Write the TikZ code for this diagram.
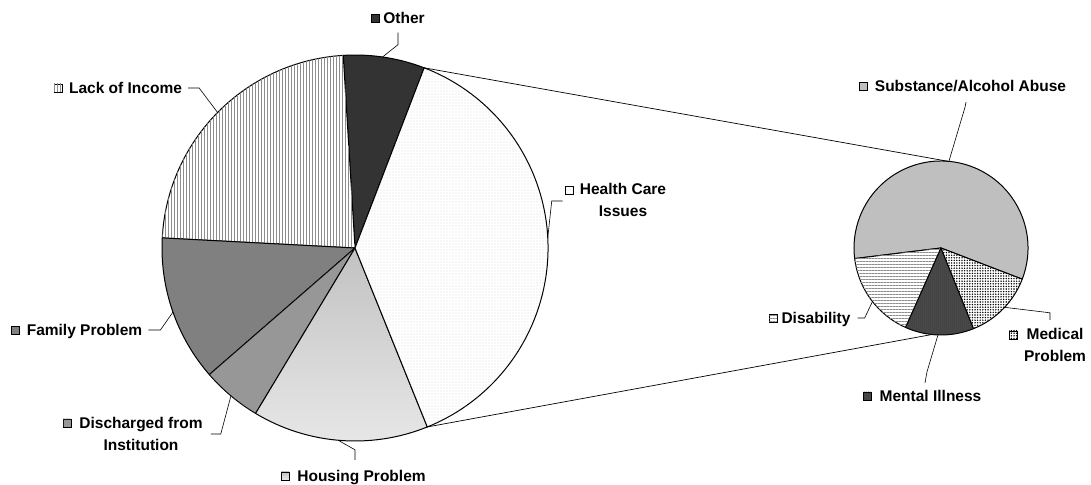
\documentclass[tikz,border=0pt]{standalone}
\usepackage{fontspec}
\setmainfont{Liberation Sans}
\usetikzlibrary{patterns,patterns.meta}

\tikzset{
  slice/.style={draw=black,line width=1pt,line join=round},
  leader/.style={draw=black,line width=0.6pt},
  link/.style={draw=black,line width=0.7pt},
  lbl/.style={font=\bfseries\fontsize{15.5}{22}\selectfont,inner sep=0pt,text height=12pt,text depth=1pt,align=center},
  keysq/.style={draw=black,line width=0.7pt,minimum size=8pt,inner sep=0pt},
  f-other/.style={fill=black!80},
  f-lack/.style={fill=white,postaction={pattern={Lines[angle=90,distance=3pt,line width=1pt]},pattern color=gray!90}},
  f-family/.style={fill=gray},
  f-dis/.style={fill=gray!70,postaction={pattern={Dots[distance=2pt,radius=0.6pt]},pattern color=black!60}},
  f-housing/.style={top color=gray!48,bottom color=gray!18},
  f-hc/.style={fill=white,postaction={pattern={Dots[distance=3pt,radius=0.45pt]},pattern color=gray!70}},
  f-sub/.style={fill=gray!50},
  f-disab/.style={fill=white,postaction={pattern={Lines[angle=0,distance=3pt,line width=1pt]},pattern color=gray!90}},
  f-mental/.style={fill=black!70,postaction={pattern={Dots[distance=2pt,radius=0.5pt]},pattern color=black!85}},
  f-med/.style={fill=white,postaction={pattern={Dots[distance=2.6pt,radius=0.8pt]},pattern color=black}}
}

\begin{document}
\begin{tikzpicture}[x=1pt,y=1pt]
  \useasboundingbox[fill=white] (0,0) rectangle (1091,484);
  \coordinate (bigc) at (355,236);
  \coordinate (smallc) at (941,236);

  % big pie
  \draw[slice,f-other] (bigc) -- ++(69:193) arc[start angle=69,end angle=93.5,radius=193] -- cycle;
  \draw[slice,f-lack] (bigc) -- ++(93.5:193) arc[start angle=93.5,end angle=177,radius=193] -- cycle;
  \draw[slice,f-family] (bigc) -- ++(177:193) arc[start angle=177,end angle=221,radius=193] -- cycle;
  \draw[slice,f-dis] (bigc) -- ++(221:193) arc[start angle=221,end angle=239,radius=193] -- cycle;
  \draw[slice,f-housing] (bigc) -- ++(239:193) arc[start angle=239,end angle=292,radius=193] -- cycle;
  \draw[slice,f-hc] (bigc) -- ++(-68:193) arc[start angle=-68,end angle=69,radius=193] -- cycle;

  % small pie
  \draw[slice,f-sub] (smallc) -- ++(-21:87) arc[start angle=-21,end angle=187,radius=87] -- cycle;
  \draw[slice,f-disab] (smallc) -- ++(187:87) arc[start angle=187,end angle=246,radius=87] -- cycle;
  \draw[slice,f-mental] (smallc) -- ++(246:87) arc[start angle=246,end angle=292,radius=87] -- cycle;
  \draw[slice,f-med] (smallc) -- ++(292:87) arc[start angle=292,end angle=339,radius=87] -- cycle;

  % points on the rims
  \path (bigc) ++(69:193) coordinate (big-top);
  \path (bigc) ++(-68:193) coordinate (big-bot);
  \path (smallc) ++(85.5:87) coordinate (small-top);
  \path (smallc) ++(264:87) coordinate (small-bot);
  \path (bigc) ++(81.8:193) coordinate (p-other);
  \path (bigc) ++(135.4:193) coordinate (p-lack);
  \path (bigc) ++(3:193) coordinate (p-hc);
  \path (bigc) ++(199.4:193) coordinate (p-family);
  \path (bigc) ++(230:193) coordinate (p-dis);
  \path (bigc) ++(265:193) coordinate (p-housing);
  \path (smallc) ++(84.8:87) coordinate (p-sub);
  \path (smallc) ++(218:87) coordinate (p-disab);
  \path (smallc) ++(-43:87) coordinate (p-med);
  \path (smallc) ++(-92:87) coordinate (p-mental);

  \draw[link] (big-top) -- (small-top);
  \draw[link] (big-bot) -- (small-bot);

  % labels
  \node[lbl] (lbl-other) at (404,466) {Other};
  \node[keysq,f-other] (k-other) at (375,466) {};
  \node[lbl] (lbl-lack) at (125.5,396) {Lack of Income};
  \node[keysq,f-lack] (k-lack) at (58,396) {};
  \node[lbl] (lbl-hc) at (623,273) {Health Care\\Issues};
  \node[keysq,f-hc] (k-hc) at (569,294) {};
  \node[lbl] (lbl-family) at (84.5,154) {Family Problem};
  \node[keysq,f-family] (k-family) at (15,154) {};
  \node[lbl] (lbl-dis) at (141,39) {Discharged from\\Institution};
  \node[keysq,f-dis] (k-dis) at (67,61) {};
  \node[lbl] (lbl-housing) at (361.5,8) {Housing Problem};
  \node[keysq,f-housing] (k-housing) at (285,8) {};
  \node[lbl] (lbl-sub) at (970.5,398) {Substance/Alcohol Abuse};
  \node[keysq,f-sub] (k-sub) at (863,398) {};
  \node[lbl] (lbl-disab) at (816,166) {Disability};
  \node[keysq,f-disab] (k-disab) at (773,166) {};
  \node[lbl] (lbl-med) at (1055,128) {Medical\\Problem};
  \node[keysq,f-med] (k-med) at (1013,149) {};
  \node[lbl] (lbl-mental) at (930.5,88) {Mental Illness};
  \node[keysq,f-mental] (k-mental) at (867,88) {};

  % leader lines
  \draw[leader] ([xshift=-6pt,yshift=-8pt]lbl-other.south) -- ++(0,-12) -- (p-other);
  \draw[leader] ([xshift=6pt]lbl-lack.east) -- ++(11,0) -- (p-lack);
  \draw[leader] ([xshift=-17pt,yshift=10pt]lbl-hc.west) -- ++(-11,0) -- (p-hc);
  \draw[leader] ([xshift=6pt]lbl-family.east) -- ++(12,0) -- (p-family);
  \draw[leader] ([xshift=8pt,yshift=11pt]lbl-dis.east) -- ++(10,0) -- (p-dis);
  \draw[leader] ([xshift=-6.5pt,yshift=9.5pt]lbl-housing.north) -- ++(0,10) -- (p-housing);
  \draw[leader] ([xshift=-4.5pt,yshift=-9.5pt]lbl-sub.south) -- ++(-1,-5) -- (p-sub);
  \draw[leader] ([xshift=7pt]lbl-disab.east) -- ++(7,0) -- (p-disab);
  \draw[leader] ([xshift=-5pt,yshift=29.5pt]lbl-med.north) -- ++(0,7) -- (p-med);
  \draw[leader] ([xshift=-5.5pt,yshift=6.5pt]lbl-mental.north) -- ++(2,11) -- (p-mental);
\end{tikzpicture}
\end{document}
